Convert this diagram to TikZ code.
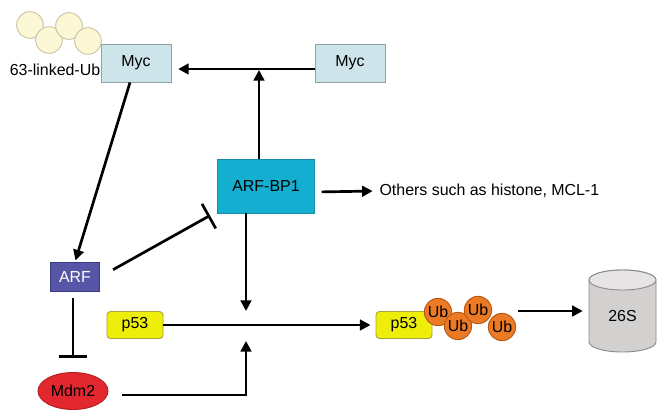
\documentclass[tikz,border=0pt]{standalone}
\usepackage{fontspec}
\setmainfont{Liberation Sans}
\usepackage{xcolor}
\usetikzlibrary{arrows.meta, shapes.geometric, positioning}

\definecolor{myclight}{HTML}{CDE5EA}
\definecolor{mycedge}{HTML}{8AA3A8}
\definecolor{bpcyan}{HTML}{14AFD0}
\definecolor{bpedge}{HTML}{1C8AA6}
\definecolor{arfblue}{HTML}{5655A6}
\definecolor{arfedge}{HTML}{3B3A85}
\definecolor{pyellow}{HTML}{EEEE0A}
\definecolor{pedge}{HTML}{A9A33A}
\definecolor{mdmred}{HTML}{E2282E}
\definecolor{mdmedge}{HTML}{B21E22}
\definecolor{ubcream}{HTML}{FCF8D6}
\definecolor{ubcreamedge}{HTML}{C9C5A6}
\definecolor{uborange}{HTML}{EC7A24}
\definecolor{uborangeedge}{HTML}{B55B18}
\definecolor{protbody}{HTML}{D3D0D0}
\definecolor{prottop}{HTML}{E6E4E4}
\definecolor{protedge}{HTML}{8C8A8A}

\begin{document}
\begin{tikzpicture}[x=0.03cm, y=-0.03cm, font=\fontsize{13.6}{16}\selectfont,
    mycbox/.style={rectangle, draw=mycedge, fill=myclight, line width=0.8pt, minimum width=2.1cm, minimum height=1.14cm, inner sep=0pt},
    bpbox/.style={rectangle, draw=bpedge, fill=bpcyan, line width=0.8pt, minimum width=2.91cm, minimum height=1.62cm, inner sep=0pt},
    arfbox/.style={rectangle, draw=arfedge, fill=arfblue, text=white, line width=0.8pt, minimum width=1.47cm, minimum height=0.87cm, inner sep=0pt},
    pbox/.style={rectangle, rounded corners=3pt, draw=pedge, fill=pyellow, line width=0.8pt, minimum width=1.68cm, minimum height=0.81cm, inner sep=0pt},
    mdmnode/.style={ellipse, draw=mdmedge, fill=mdmred, line width=0.8pt, minimum width=2.1cm, minimum height=1.11cm, inner sep=0pt},
    kball/.style={circle, draw=ubcreamedge, fill=ubcream, line width=0.8pt, minimum size=0.8cm, inner sep=0pt},
    ubball/.style={circle, draw=uborangeedge, fill=uborange, line width=0.8pt, minimum size=0.82cm, inner sep=0pt},
    arr/.style={line width=2.3pt, -{Triangle[length=9pt, width=9pt]}},
    blunt/.style={line width=2.3pt, -{Bar[width=24pt, line width=2.3pt]}}]

    \useasboundingbox (0,0) rectangle (659,410);

    % K63 chain on Myc
    \node[kball] (k1) at (30,25) {};
    \node[kball] (k2) at (49,40) {};
    \node[kball] (k3) at (69,26) {};
    \node[kball] (k4) at (88,41) {};
    \node (klabel) at (55,70) {63-linked-Ub};

    \node[mycbox] (mycL) at (136,63) {Myc};
    \node[mycbox] (mycR) at (350,63) {Myc};

    \node[bpbox] (bp1) at (266,186) {ARF-BP1};
    \node[anchor=west, inner sep=0.1cm] (others) at (376,191) {Others such as histone, MCL-1};

    \node[arfbox] (arf) at (75,277) {ARF};
    \node[mdmnode] (mdm2) at (73,391) {Mdm2};

    \node[pbox] (p53a) at (135,325) {p53};
    \node[pbox] (p53b) at (404,325) {p53};

    % poly-Ub chain
    \node[ubball] (ub1) at (438,312) {Ub};
    \node[ubball] (ub2) at (458,326) {Ub};
    \node[ubball] (ub3) at (478,310) {Ub};
    \node[ubball] (ub4) at (502,327) {Ub};

    % proteasome
    \draw[line width=0.8pt, draw=protedge, fill=protbody] (589,280) -- (589,342) arc[start angle=180, end angle=360, x radius=1.005cm, y radius=0.3cm] -- (656,280) arc[start angle=0, end angle=180, x radius=1.005cm, y radius=0.3cm] -- cycle;
    \draw[line width=0.8pt, draw=protedge, fill=prottop] (622.5,280) ellipse[x radius=1.005cm, y radius=0.3cm];
    \node[minimum width=2.01cm, minimum height=2.46cm, inner sep=0pt] (proteasome) at (622.5,311) {};
    \node at (622.5,316) {26S};

    % junctions on the arrows
    \coordinate (jtop) at (259,70);
    \coordinate (jabove) at (246,311);
    \coordinate (jbelow) at (246,341);

    \draw[arr, shorten >=0.2cm] ([yshift=-0.18cm]mycR.west) -- ([yshift=-0.18cm]mycL.east);
    \draw[arr] (jtop |- bp1.north) -- (jtop);
    \draw[arr, shorten <=0.2cm, shorten >=0.1cm] ([yshift=-0.18cm]bp1.east) -- (others.west);
    \draw[arr, shorten >=0.05cm] ([xshift=-0.18cm]mycL.south) -- (arf.north);
    \draw[blunt, shorten <=0.45cm] (arf.east) -- ([shift={(-0.21cm,-0.06cm)}]bp1.south west);
    \draw[blunt, shorten <=0.18cm, shorten >=0.42cm] ([xshift=-0.06cm]arf.south) -- (mdm2.north);
    \draw[arr] (jabove |- bp1.south) -- (jabove);
    \draw[arr, shorten <=0.42cm] ([yshift=-0.12cm]mdm2.east) -| (jbelow);
    \draw[arr, shorten >=0.15cm] (p53a.east) -- (p53b.west);
    \draw[arr, shorten <=0.06cm, shorten >=0.18cm] (ub4.east |- proteasome.west) -- (proteasome.west);

\end{tikzpicture}
\end{document}
